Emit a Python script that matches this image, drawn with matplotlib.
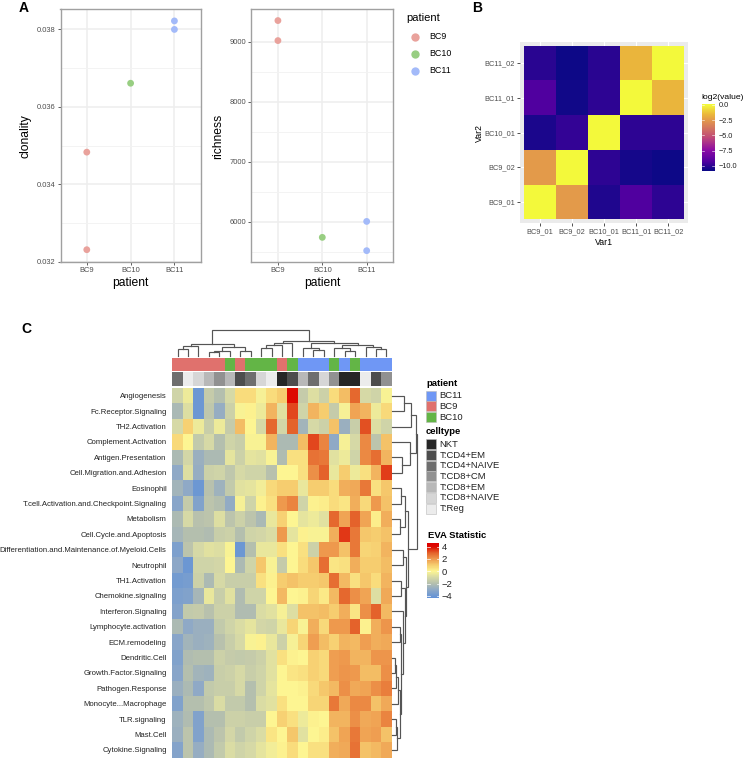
import numpy as np
import matplotlib
matplotlib.use("Agg")
import matplotlib.pyplot as plt
from matplotlib.colors import LinearSegmentedColormap, ListedColormap, Normalize
from matplotlib.patches import Rectangle

plt.rcParams['font.family'] = ['Liberation Sans', 'DejaVu Sans']

W, H = 745, 760

# ---------- data ----------
patients = ['BC9', 'BC10', 'BC11']
patient_pos = [0, 0, 1, 2, 2]
patient_names = ['BC9', 'BC9', 'BC10', 'BC11', 'BC11']
clonality = [0.03483, 0.03231, 0.03661, 0.03800, 0.03822]
richness = [9356, 9022, 5739, 6005, 5517]
clonality_ticks = [0.032, 0.034, 0.036, 0.038]
clonality_minor = [0.033, 0.035, 0.037]
richness_ticks = [6000, 7000, 8000, 9000]
richness_minor = [5500, 6500, 7500, 8500]

samples = ['BC9_01', 'BC9_02', 'BC10_01', 'BC11_01', 'BC11_02']
similarity = [
    [0.0, -2.5, -10.3, -9.3, -10.0],
    [-2.5, 0.0, -10.0, -10.5, -10.7],
    [-10.4, -9.9, 0.0, -10.0, -10.0],
    [-9.3, -10.6, -10.0, 0.0, -1.6],
    [-10.1, -10.7, -10.1, -1.6, 0.0],
]

row_labels = ['Angiogenesis', 'Fc.Receptor.Signaling', 'TH2.Activation', 'Complement.Activation',
              'Antigen.Presentation', 'Cell.Migration.and.Adhesion', 'Eosinophil',
              'T.cell.Activation.and.Checkpoint.Signaling', 'Metabolism', 'Cell.Cycle.and.Apoptosis',
              'Differentiation.and.Maintenance.of.Myeloid.Cells', 'Neutrophil', 'TH1.Activation',
              'Chemokine.signaling', 'Interferon.Signaling', 'Lymphocyte.activation', 'ECM.remodeling',
              'Dendritic.Cell', 'Growth.Factor.Signaling', 'Pathogen.Response', 'Monocyte...Macrophage',
              'TLR.signaling', 'Mast.Cell', 'Cytokine.Signaling']

eva = [
    [-1.2,-.4,-4,-1.5,-2,-1,.6,.6,-.2,.6,1,4,-1.5,-.8,-1.3,.6,1.3,2.9,-1,-1.2,-.1],
    [-2.3,-.8,-4,-1.7,-2.8,-1.3,-.1,.1,-.4,1.5,-.7,3.3,-1.2,1.5,1,-1.5,-.2,1.8,1.5,-.4,.7],
    [-1,.9,-.4,-1.4,-.4,-1.5,1.3,0,-1,2.9,-1.1,3,-2.5,-1,-1.3,1.2,-2.7,-1.4,3.2,-.8,-1.2],
    [.7,0,-1.6,-1,-2,-1.2,-1.4,-.1,-.1,1.5,-2.2,-2.2,1.3,3.3,2.4,-3,-.2,-1,2.3,-1.8,1.2],
    [-2.2,-1.1,-2.7,-2.2,-2.2,-.6,-1.3,-.6,-.7,-.1,-2.1,.5,.5,2.7,2.6,-.7,-.4,-1.2,2.3,2.8,1.5],
    [-3,-.8,-2.8,-1.3,-1.2,-1.7,-1,-1.2,-1.2,-1.9,0,0,.5,2.2,3,-.5,1,-.4,.5,1.5,3.4],
    [-2.5,-3,-4,-1.9,-2.6,-1.6,-.7,-.6,-.3,.7,1,1,-.5,1,1,.6,1.6,1.7,2.6,.5,1.1],
    [-3.2,-1.5,-3.4,-1.8,-2,-2.9,-.2,-1.2,.1,.5,2,2.4,-1.2,.1,.2,.6,.4,1.6,.7,2,1.2],
    [-2.2,-1,-1.9,-1.8,-.8,-1.8,-1.3,-1.8,-2.3,-.5,.9,0,-.6,-.4,-.7,2.9,1.8,3,1.8,.2,1.6],
    [-2.4,-2,-2,-2.1,-1.4,-1.3,-2,-1.2,-1.1,-.9,2,-.6,.1,-.1,-.1,1.6,3.5,2.6,1.1,1,1.2],
    [-3.5,-1.8,-1,-.7,-.8,-.1,-4,-2,-.5,-.5,.5,0,.5,-1.3,2,2,1.2,2.6,.8,.9,1.5],
    [-3.1,-4,-1.2,-1.2,-1.1,0,-2.2,-1.2,1.1,-.1,-1.5,0,.6,1.1,2.8,.4,.5,1.6,1,1,1.3],
    [-3.8,-3.7,-1.3,-2.2,-1,-1.4,-1.4,-1.4,.5,.1,1,1.2,1,1,1.1,2.8,1.4,.5,1.1,.6,1.5],
    [-3.5,-3.4,-2.4,-.5,-1.4,-.7,-2.1,-1.2,-1.2,0,1.4,0,.1,.8,.3,1.4,2.9,2.2,1.8,-.8,1.7],
    [-3.3,-1.6,-1.5,-1.9,-1.3,-1.3,-2.1,-2.1,-.9,-.7,-.2,-.8,1.2,1.2,1.3,1,1.6,.4,2.2,3,1.4],
    [-2.2,-3,-2.7,-2.7,-1.6,-1.2,-.9,-.6,-1.1,-1.2,-.5,.8,-.1,1.6,.7,2,2,3,.1,1.6,2.1],
    [-3.2,-2.5,-2.7,-2.6,-1.9,-1.4,-1,-.1,.1,-.5,-1.3,-.2,.8,1.9,1.3,.9,1.5,1.4,1.9,1.6,1.7],
    [-3.4,-2.1,-2,-2,-1.3,-1.5,-1.6,-1.5,-1.3,-.7,.5,.1,0,.9,.7,1.9,2,1.5,1.5,2.1,2.1],
    [-3.2,-2,-2.5,-2.6,-1.4,-1.3,-1,-1.4,-1.2,-.7,0,.4,.5,.9,.7,1.9,2.1,2,1.3,1.3,2.2],
    [-2.7,-2.2,-3,-1.6,-1.4,-1.4,-1,-2,-1.2,-.6,0,0,.1,.7,1.1,1.4,2.2,1.7,1.8,2.2,2.5],
    [-3.4,-2,-2,-1.7,-.9,-1.6,-1.6,-2,-.9,-.7,.5,0,0,.8,.8,2.6,1.7,2.3,2.3,1.2,1.7],
    [-2.6,-2.1,-3.4,-2,-2,-1.3,-1.3,-1.4,-1.4,0,.9,.5,-.4,.1,0,1.5,1.5,2.2,1.7,1.8,2.4],
    [-2.7,-1.8,-3.4,-2.2,-1.8,-1.1,-1.6,-1.2,-.9,.4,0,1.1,-.7,0,.2,1.2,1.8,2.6,1.8,1.9,1.2],
    [-3.3,-1.8,-2.8,-2.2,-1.6,-.9,-1.2,-1,-.6,-.3,.1,.6,0,.5,.5,1.6,1.7,2.7,1.2,1.4,1.7],
]

anno_patient = ['BC9','BC9','BC9','BC9','BC9','BC10','BC9','BC10','BC10','BC10','BC9','BC10',
                'BC11','BC11','BC11','BC10','BC11','BC10','BC11','BC11','BC11']
anno_cell = ['T:CD4+NAIVE','T:Reg','T:CD8+NAIVE','T:CD8+EM','T:CD8+CM','T:CD8+EM','T:CD4+EM',
             'T:CD4+NAIVE','T:CD8+NAIVE','T:Reg','NKT','T:CD4+EM','T:CD8+EM','T:CD4+NAIVE',
             'T:CD8+NAIVE','T:CD8+CM','NKT','NKT','T:Reg','T:CD4+EM','T:CD8+CM']
patient_levels = ['BC11', 'BC9', 'BC10']
cell_levels = ['NKT', 'T:CD4+EM', 'T:CD4+NAIVE', 'T:CD8+CM', 'T:CD8+EM', 'T:CD8+NAIVE', 'T:Reg']

# dendrograms: leaf = index, node = (left, right, height)
col_tree = (
    (
        ((0, 1, 6.3), 2, 9.5),
        (((3, 4, 3.3), 5, 5.0), (6, 7, 5.0), 8.3),
        11.3),
    (
        (((8, 9, 7.3), 10, 10.7), 11, 12.3),
        ((12, (13, 14, 5.7), 7.3),
         ((15, (16, 17, 5.0), 7.3), (18, (19, 20, 6.3), 8.3), 10.7),
         13.0),
        15.0),
    25.7)
row_tree = (
    (((0, 1, 12.3), 2, 19.7),
     (3, (4, 5, 10.7), 18.0),
     24.5),
    (
        ((6, 7, 9.0), (8, 9, 8.0), 13.3),
        ((10, 11, 11.3),
         ((12, 13, 9.7),
          (14,
           ((15, 16, 8.0),
            ((((17, 18, 3.3), 19, 4.3), 20, 6.7),
             ((21, 22, 4.3), 23, 5.0),
             8.3),
            9.7),
           11.0),
          13.3),
         14.0),
        16.7),
    25.5)

# ---------- helpers ----------
fig = plt.figure(figsize=(W / 100, H / 100), dpi=100, facecolor='white')


def ax_px(x0, y0, x1, y1, **kw):
    return fig.add_axes([x0 / W, 1 - y1 / H, (x1 - x0) / W, (y1 - y0) / H], **kw)


def draw_tree(ax, node, vertical):
    if not isinstance(node, tuple):
        return node + 0.5, 0.0
    a, b, h = node
    pa, ha = draw_tree(ax, a, vertical)
    pb, hb = draw_tree(ax, b, vertical)
    ps, hs = [pa, pa, pb, pb], [ha, h, h, hb]
    xy = (ps, hs) if vertical else (hs, ps)
    ax.plot(*xy, color='#555555', lw=0.85, solid_joinstyle='miter', clip_on=False)
    return (pa + pb) / 2, h


# overlay in pixel units for panel letters and legends
ov = ax_px(0, 0, W, H)
ov.set_xlim(0, W)
ov.set_ylim(H, 0)
ov.axis('off')
ov.set_zorder(5)

for letter, x, y in [('A', 19, 7.5), ('B', 472, 8), ('C', 21, 329)]:
    ov.text(x, y, letter, fontsize=10, fontweight='bold', ha='left', va='center')

# ---------- panel A ----------
pcol = {'BC9': '#e9a29c', 'BC10': '#98ce82', 'BC11': '#a3baf9'}


def scatter_panel(box, values, ylim, major, minor, ylabel, fmt, lab_x):
    ax = ax_px(*box)
    ax.set_xlim(-0.6, 2.6)
    ax.set_ylim(*ylim)
    ax.set_axisbelow(True)
    ax.set_xticks(range(3), patients)
    ax.set_yticks(major, [fmt % v for v in major])
    ax.set_yticks(minor, minor=True)
    ax.grid(True, which='major', color='#eeeeee', lw=1.1)
    ax.grid(True, which='minor', axis='y', color='#f3f3f3', lw=0.7)
    ax.tick_params(which='minor', length=0)
    ax.tick_params(which='major', length=2.2, width=0.6, color='#444444',
                   labelsize=5.4, labelcolor='#4d4d4d', pad=1.5)
    for s in ax.spines.values():
        s.set_color('#a0a0a0')
        s.set_linewidth(1.0)
    ax.scatter(patient_pos, values, c=[pcol[n] for n in patient_names], s=24, linewidths=0, zorder=3,
               clip_on=False)
    ax.set_xlabel('patient', fontsize=8.7, labelpad=2.5)
    ov.text(lab_x, (box[1] + box[3]) / 2 + 0.5, ylabel, fontsize=8.7, rotation=90, ha='center', va='center')


scatter_panel((60.5, 9.3, 200.7, 261.7), clonality, (0.032, 0.03852), clonality_ticks, clonality_minor,
              'clonality', '%.3f', 25.5)
scatter_panel((251.3, 9.3, 393.3, 261.7), richness, (5333, 9544), richness_ticks, richness_minor,
              'richness', '%d', 218.5)

ov.text(406.5, 18, 'patient', fontsize=8, ha='left', va='center')
for i, p in enumerate(patients):
    yy = 36.7 + 17.1 * i
    ov.scatter([415], [yy], c=pcol[p], s=36, linewidths=0)
    ov.text(429, yy, p, fontsize=6.4, ha='left', va='center')

# ---------- panel B ----------
plasma_soft = LinearSegmentedColormap.from_list('plasma_soft', [
    (0.0, '#0d0887'), (0.13, '#50009f'), (0.3, '#8b0aa5'), (0.5, '#c04a78'),
    (0.77, '#e39a4a'), (0.86, '#ebb83a'), (1.0, '#f3f93b')])
axb = ax_px(520.3, 42.3, 687.7, 222.7)
axb.set_facecolor('#ebebeb')
axb.set_xlim(-0.6, 4.6)
axb.set_ylim(-0.6, 4.6)
axb.set_axisbelow(True)
axb.grid(True, color='white', lw=0.8)
plasma_norm = Normalize(-10.7, 0)
sim = np.array(similarity)
axb.pcolormesh(np.arange(6) - 0.5, np.arange(6) - 0.5, sim, cmap=plasma_soft, norm=plasma_norm,
               edgecolors='none', zorder=2)
axb.set_xticks(range(5), samples)
axb.set_yticks(range(5), samples)
axb.tick_params(length=2.2, width=0.6, color='#333333', labelsize=5.3, labelcolor='#4d4d4d', pad=1.5)
for s in axb.spines.values():
    s.set_visible(False)
axb.set_xlabel('Var1', fontsize=6.3, labelpad=2)
ov.text(479, 132.5, 'Var2', fontsize=6.3, rotation=90, ha='center', va='center')

ov.text(701.5, 97.5, 'log2(value)', fontsize=6.1, ha='left', va='center')
cbb = ax_px(701.5, 103.5, 715, 170.5)
grad_y = np.linspace(-10.75, 0.2, 201)
cbb.pcolormesh([0, 1], grad_y, ((grad_y[:-1] + grad_y[1:]) / 2).reshape(-1, 1), cmap=plasma_soft,
               norm=plasma_norm, edgecolors='none')
cbb.set_ylim(-10.75, 0.2)
cbb.set_xlim(0, 1)
cbb.set_xticks([])
cbb_ticks = [0.0, -2.5, -5.0, -7.5, -10.0]
cbb.yaxis.tick_right()
cbb.set_yticks(cbb_ticks, ['%.1f' % v if v == 0 else '\u2212%.1f' % abs(v) for v in cbb_ticks])
cbb.tick_params(length=0, labelsize=5.3, labelcolor='#222222', pad=2.5)
for v in cbb_ticks:
    cbb.plot([0, 0.2], [v, v], color='white', lw=0.4)
    cbb.plot([0.8, 1], [v, v], color='white', lw=0.4)
for s in cbb.spines.values():
    s.set_visible(False)

# ---------- panel C ----------
eva_cmap = LinearSegmentedColormap.from_list('eva', [
    (0.0, '#5f90d8'),
    ((-3.0 + 4.4) / 8.95, '#8fa9c6'),
    ((-2.0 + 4.4) / 8.95, '#b5bfae'),
    ((-1.0 + 4.4) / 8.95, '#d6d9a6'),
    ((0.0 + 4.4) / 8.95, '#fdf592'),
    ((1.0 + 4.4) / 8.95, '#f6cd6f'),
    ((2.0 + 4.4) / 8.95, '#ee9a4e'),
    ((3.0 + 4.4) / 8.95, '#e4632b'),
    ((4.0 + 4.4) / 8.95, '#dd0a00'),
    (1.0, '#dd0000'),
])
eva_norm = Normalize(-4.4, 4.55)
HM = (172.3, 388, 391.7, 757.7)
axh = ax_px(*HM)
axh.pcolormesh(np.arange(22), np.arange(25), np.array(eva), cmap=eva_cmap, norm=eva_norm, edgecolors='none')
axh.set_ylim(24, 0)
axh.set_xlim(0, 21)
axh.set_xticks([])
axh.set_yticks(np.arange(24) + 0.5, row_labels)
axh.tick_params(length=0, labelsize=5.55, labelcolor='#222222', pad=4)
for s in axh.spines.values():
    s.set_visible(False)

patient_colors = {'BC11': '#6f97f5', 'BC9': '#e0716d', 'BC10': '#63b546'}
cell_colors = {'NKT': '#262626', 'T:CD4+EM': '#4d4d4d', 'T:CD4+NAIVE': '#6e6e6e', 'T:CD8+CM': '#919191',
               'T:CD8+EM': '#b8b8b8', 'T:CD8+NAIVE': '#d6d6d6', 'T:Reg': '#ececec'}

ax1 = ax_px(172.3, 357.7, 391.7, 371)
ax1.pcolormesh(np.arange(22), [0, 1], np.array([[patient_levels.index(p) for p in anno_patient]]),
               cmap=ListedColormap([patient_colors[p] for p in patient_levels]), vmin=-0.5, vmax=2.5)
ax1.axis('off')
ax2 = ax_px(172.3, 372.3, 391.7, 385.7)
ax2.pcolormesh(np.arange(22), [0, 1], np.array([[cell_levels.index(c) for c in anno_cell]]),
               cmap=ListedColormap([cell_colors[c] for c in cell_levels]), vmin=-0.5, vmax=6.5)
ax2.axis('off')

axt = ax_px(172.3, 330, 391.7, 355.7)
axt.set_xlim(0, 21)
axt.set_ylim(0, 25.7)
axt.axis('off')
draw_tree(axt, col_tree, True)

axs = ax_px(391.7, 388, 418, 757.7)
axs.set_xlim(0, 26.3)
axs.set_ylim(24, 0)
axs.axis('off')
draw_tree(axs, row_tree, False)

# legends of C
ov.text(426, 383.5, 'patient', fontsize=6.8, fontweight='bold', ha='left', va='center')
for i, p in enumerate(patient_levels):
    y0 = 390.7 + 10.7 * i
    ov.add_patch(Rectangle((426, y0), 10.3, 10.0, fc=patient_colors[p], ec='#bbbbbb', lw=0.4))
    ov.text(439.3, y0 + 5.2, p, fontsize=6.8, color='#222222', ha='left', va='center')
ov.text(426, 432, 'celltype', fontsize=6.8, fontweight='bold', ha='left', va='center')
for i, c in enumerate(cell_levels):
    y0 = 439.3 + 10.7 * i
    ov.add_patch(Rectangle((426, y0), 10.3, 10.0, fc=cell_colors[c], ec='#bbbbbb', lw=0.4))
    ov.text(439.3, y0 + 5.2, c, fontsize=6.8, color='#222222', ha='left', va='center')
ov.text(427.7, 536, 'EVA Statistic', fontsize=6.8, fontweight='bold', ha='left', va='center')

cbc = ax_px(427.3, 543.3, 439, 598.3)
c_grid = np.linspace(-4.4, 4.55, 201)
cbc.pcolormesh([0, 1], c_grid, ((c_grid[:-1] + c_grid[1:]) / 2).reshape(-1, 1), cmap=eva_cmap, norm=eva_norm,
               edgecolors='none')
cbc.set_xlim(0, 1)
cbc.set_ylim(-4.4, 4.55)
cbc.set_xticks([])
cbc_ticks = [-4, -2, 0, 2, 4]
cbc.yaxis.tick_right()
cbc.set_yticks(cbc_ticks, ['\u2212%d' % abs(v) if v < 0 else str(v) for v in cbc_ticks])
cbc.tick_params(length=0, labelsize=6.8, labelcolor='#222222', pad=2)
for v in cbc_ticks:
    cbc.plot([0, 0.2], [v, v], color='white', lw=0.5)
    cbc.plot([0.8, 1], [v, v], color='white', lw=0.5)
for s in cbc.spines.values():
    s.set_visible(False)

fig.savefig('out.png', dpi=100)
